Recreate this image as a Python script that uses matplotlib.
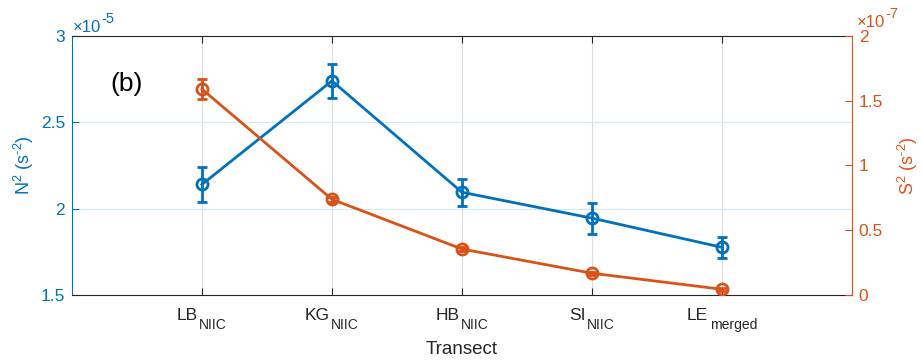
"""Stratification (N^2) and shear (S^2) along the transects, panel (b)."""

import matplotlib
matplotlib.use("Agg")
import matplotlib.pyplot as plt
import matplotlib.transforms as mtransforms
from matplotlib.ticker import FormatStrFormatter

plt.rcParams["font.family"] = ["Liberation Sans", "DejaVu Sans"]
plt.rcParams["mathtext.default"] = "regular"

BLUE = "#0072BD"
ORANGE = "#D95319"
DARK = "#262626"
HY = "\u2010"  # plain hyphen in exponents, not a minus

transect_names = ["LB", "KG", "HB", "SI", "LE"]
transect_subs = ["NIIC", "NIIC", "NIIC", "NIIC", "merged"]
positions = [1, 2, 3, 4, 5]

# N^2 in units of 1e-5 s^-2
n2_mean = [2.14, 2.74, 2.095, 1.945, 1.776]
n2_err = [0.10, 0.10, 0.077, 0.089, 0.061]

# S^2 in units of 1e-7 s^-2
s2_mean = [1.59, 0.739, 0.355, 0.168, 0.044]
s2_err = [0.075, 0.02, 0.015, 0.012, 0.01]

fig = plt.figure(figsize=(9.22, 3.6), dpi=100)
ax = fig.add_axes([0.078, 0.1806, 0.846, 0.7194])
ax2 = ax.twinx()
renderer = fig.canvas.get_renderer()


def two_part_label(axis, x, y, base, extra, transform, dx, dy_base, dy_extra,
                   size_base, size_extra, color, center=False, gap=1.5):
    """Base text followed by a sub/superscript drawn as its own text."""
    t_base = axis.text(x, y, base, fontsize=size_base, color=color,
                       va="baseline", ha="left", transform=transform)
    t_extra = axis.text(x, y, extra, fontsize=size_extra, color=color,
                        va="baseline", ha="left", transform=transform)
    w_base = t_base.get_window_extent(renderer).width
    w_extra = t_extra.get_window_extent(renderer).width
    left = dx - (w_base + gap + w_extra) / 2 if center else dx
    t_base.set_transform(mtransforms.offset_copy(transform, fig, x=left,
                                                 y=dy_base, units="dots"))
    t_extra.set_transform(mtransforms.offset_copy(transform, fig,
                                                  x=left + w_base + gap,
                                                  y=dy_extra, units="dots"))


ax.errorbar(positions, n2_mean, yerr=n2_err, color=BLUE, lw=2, marker="o",
            ms=8, mfc="none", mew=2, capsize=3.8, capthick=2, elinewidth=2)
ax2.errorbar(positions, s2_mean, yerr=s2_err, color=ORANGE, lw=2, marker="o",
             ms=8, mfc="none", mew=2, capsize=3.8, capthick=2, elinewidth=2)

ax.set_xlim(0, 6)
ax.set_ylim(1.5, 3)
ax2.set_ylim(0, 2)
ax.set_xticks(positions)
ax.set_xticklabels([])
ax.set_yticks([1.5, 2, 2.5, 3])
ax2.set_yticks([0, 0.5, 1, 1.5, 2])
ax.yaxis.set_major_formatter(FormatStrFormatter("%g"))
ax2.yaxis.set_major_formatter(FormatStrFormatter("%g"))

# grid: grey verticals, pale blue horizontals
ax.xaxis.grid(True, color="#dcdcdc", lw=0.8)
ax.yaxis.grid(True, color="#d6e8f5", lw=0.8)
ax.set_axisbelow(True)

ax.tick_params(axis="x", direction="in", top=True, length=5, width=0.8, color=DARK)
ax.tick_params(axis="y", direction="in", length=5, width=0.8, colors=BLUE,
               labelsize=12.5, pad=5)
ax2.tick_params(axis="y", direction="in", length=5, width=0.8, colors=ORANGE,
                labelsize=12.5, pad=5)

for side in ("top", "bottom"):
    ax.spines[side].set_color(DARK)
    ax.spines[side].set_linewidth(0.8)
ax.spines["left"].set_color(BLUE)
ax.spines["left"].set_linewidth(0.8)
ax.spines["right"].set_visible(False)
for side in ("top", "bottom", "left"):
    ax2.spines[side].set_visible(False)
ax2.spines["right"].set_color(ORANGE)
ax2.spines["right"].set_linewidth(0.8)

# x tick labels with large subscripts
xaxis_tr = ax.get_xaxis_transform()
for pos, name, sub in zip(positions, transect_names, transect_subs):
    two_part_label(ax, pos, 0, name, sub, xaxis_tr, 0, -25, -34, 12.5, 10,
                   DARK, center=True)

fig.text(0.501, 6 / 360, "Transect", fontsize=13.5, color=DARK, ha="center",
         va="baseline")
ax.set_ylabel(f"N$^2$ (s$^{{{HY}2}}$)", fontsize=13, color=BLUE, labelpad=3)
ax2.set_ylabel(f"S$^2$ (s$^{{{HY}2}}$)", fontsize=13, color=ORANGE, labelpad=9)

# exponent labels above each y axis
two_part_label(ax, 0, 1, "×10", f"{HY}5", ax.transAxes, 1, 4, 13, 12, 10.5,
               BLUE, gap=0.5)
two_part_label(ax2, 1, 1, "×10", f"{HY}7", ax2.transAxes, 5, 9, 18, 12, 10.5,
               ORANGE, gap=0.5)

ax.text(0.42, 2.72, "(b)", fontsize=19, color="black", ha="center", va="center")

fig.savefig("out.png", dpi=100)
